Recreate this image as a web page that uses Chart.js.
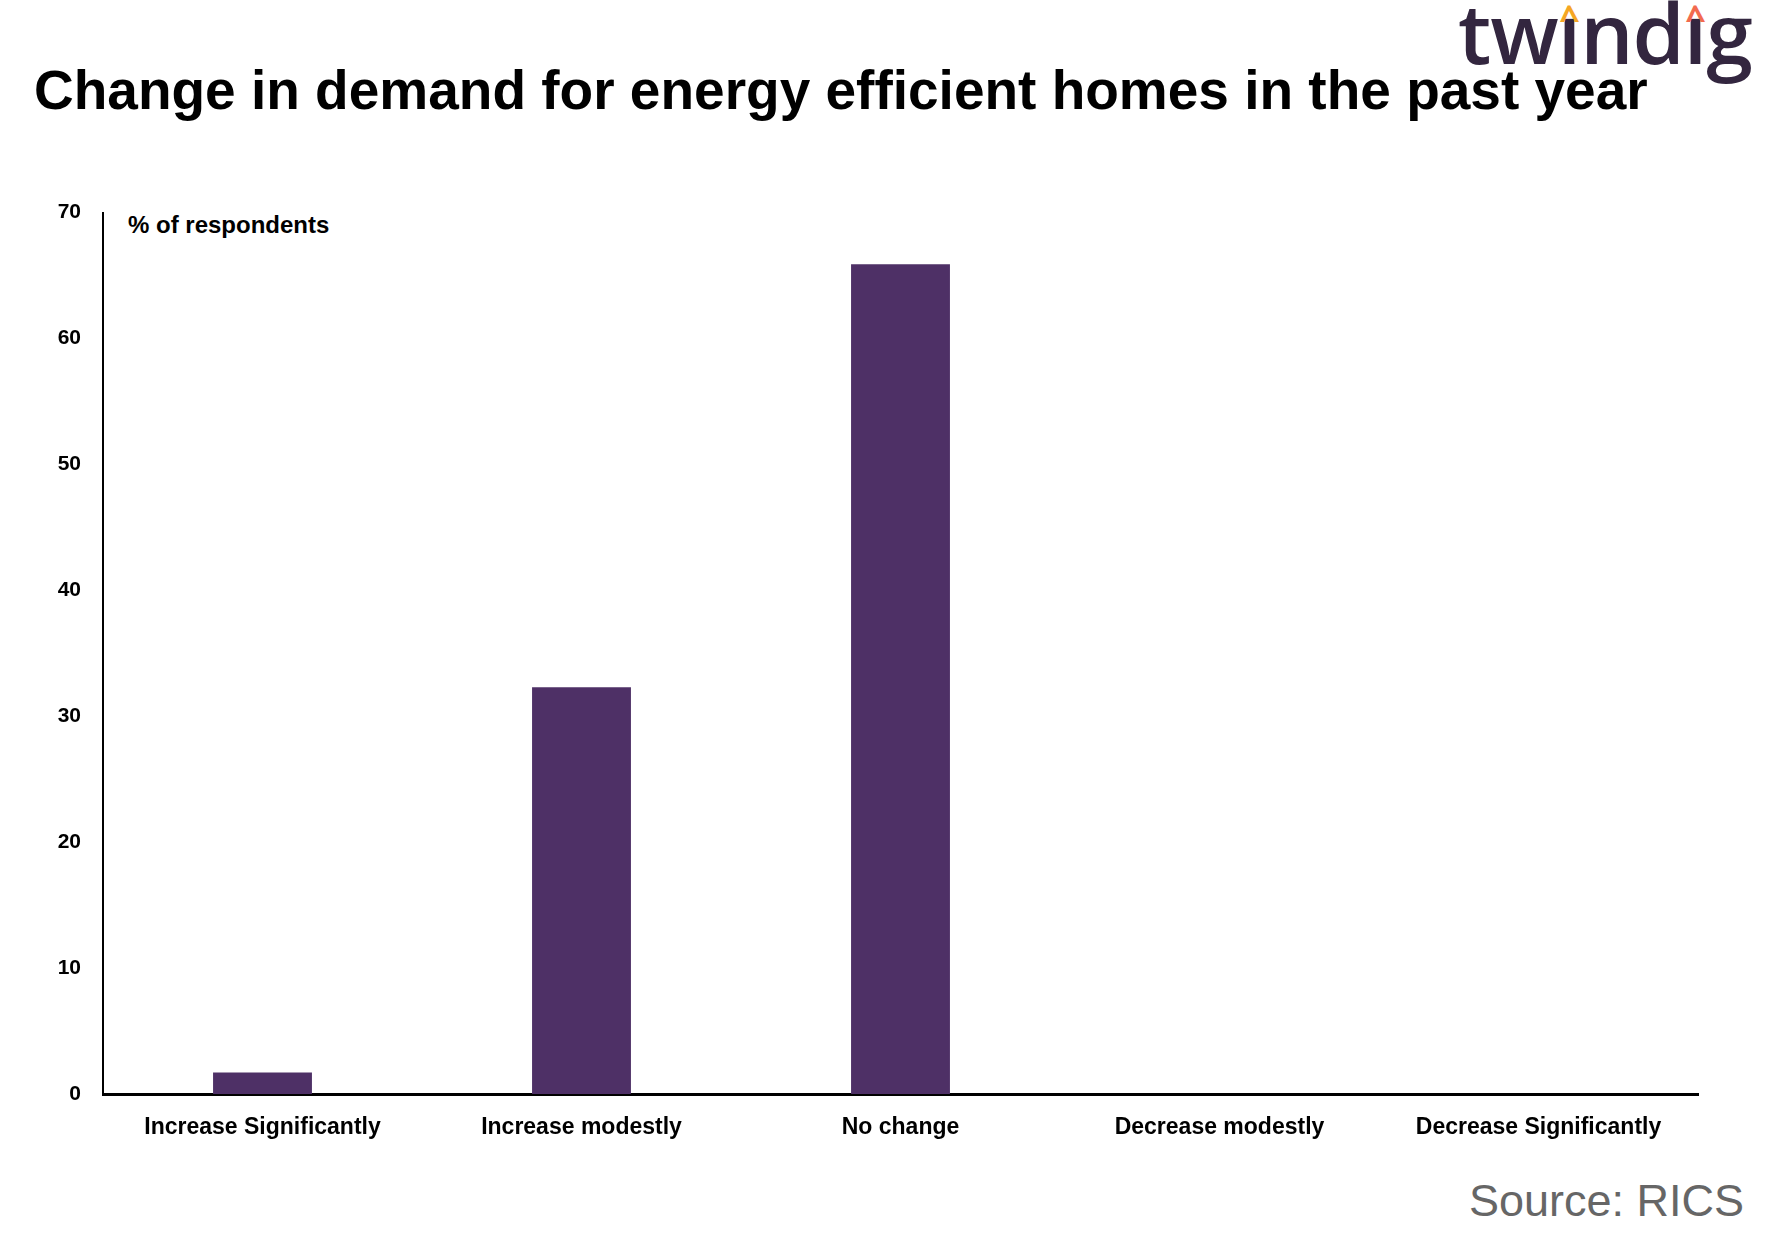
<!DOCTYPE html>
<html><head><meta charset="utf-8">
<script src="https://cdn.jsdelivr.net/npm/chart.js@4"></script>
<style>
body{margin:0;width:1766px;height:1252px;background:#fff;position:relative;overflow:hidden;font-family:"Liberation Sans",Arial,sans-serif}
#title{position:absolute;left:34px;top:58px;font-size:55px;font-weight:bold;color:#000;white-space:nowrap}
#logo{position:absolute;left:1458px;top:-26px;font-family:"Open Sans",Lato,sans-serif;font-size:84px;font-weight:600;color:#33263f;letter-spacing:-1px;white-space:nowrap}
.i{position:relative;display:inline-block}
.i b{position:absolute;left:50%;top:19px;transform:translateX(-50%);font-size:36px;font-weight:bold}
#src{position:absolute;right:22px;top:1175px;font-size:45px;color:#666}
#unit{position:absolute;left:128px;top:211px;font-size:24px;font-weight:bold;color:#000}
#wrap{position:absolute;left:40px;top:178px;width:1690px;height:1017px}
</style></head><body>
<div id="title">Change in demand for energy efficient homes in the past year</div>
<div id="logo">tw<span class="i">ı<b style="color:#f5a623">^</b></span>nd<span class="i">ı<b style="color:#f26b4f">^</b></span>g</div>
<div id="unit">% of respondents</div>
<div id="src">Source: RICS</div>
<div id="wrap"><canvas id="c"></canvas></div>
<script>
const categories=["Increase Significantly","Increase modestly","No change","Decrease modestly","Decrease Significantly"];
const values=[1.7,32.3,65.9,0,0];
const yTicks=[0,10,20,30,40,50,60,70];
new Chart(document.getElementById('c'),{type:'bar',
data:{labels:categories,datasets:[{data:values,backgroundColor:'#4e3066',barPercentage:0.62,categoryPercentage:0.5}]},
options:{responsive:true,maintainAspectRatio:false,animation:false,
layout:{padding:{top:2,right:32}},
plugins:{legend:{display:false},tooltip:{enabled:false}},
scales:{
x:{grid:{display:false,drawTicks:false},border:{color:'#000',width:3},
ticks:{color:'#000',font:{family:'Liberation Sans',size:23,weight:'bold'},padding:20,maxRotation:0},
afterFit:s=>{s.height=101;}},
y:{min:0,max:70,grid:{display:false,drawTicks:false},border:{color:'#000',width:2},
afterBuildTicks:s=>{s.ticks=yTicks.map(v=>({value:v}));},
ticks:{color:'#000',font:{family:'Liberation Sans',size:21,weight:'bold'},padding:22},
afterFit:s=>{s.width=63;}}
}}});
</script></body></html>
